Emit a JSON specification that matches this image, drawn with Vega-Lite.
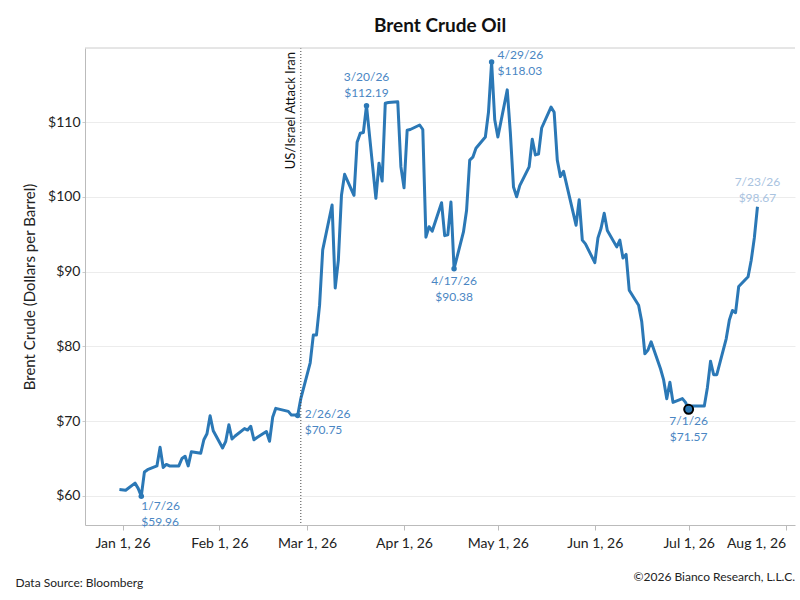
{
  "$schema": "https://vega.github.io/schema/vega-lite/v6.json",
  "width": 710,
  "height": 477,
  "autosize": "none",
  "padding": {"left": 85, "top": 48, "right": 5, "bottom": 75},
  "background": "white",
  "title": {"text": "Brent Crude Oil", "font": "Lato", "fontSize": 19, "fontWeight": "bold", "color": "#111", "offset": 12},
  "config": {"font": "Lato", "view": {"stroke": null}},
  "datasets": {
    "px": [
      {"d": "2025-12-31", "p": 60.85}, {"d": "2026-01-02", "p": 60.75}, {"d": "2026-01-05", "p": 61.7}, {"d": "2026-01-06", "p": 61.0},
      {"d": "2026-01-07", "p": 59.96}, {"d": "2026-01-08", "p": 63.2}, {"d": "2026-01-09", "p": 63.5}, {"d": "2026-01-12", "p": 64.0},
      {"d": "2026-01-13", "p": 66.5}, {"d": "2026-01-14", "p": 63.8}, {"d": "2026-01-15", "p": 64.2}, {"d": "2026-01-16", "p": 64.0},
      {"d": "2026-01-19", "p": 64.0}, {"d": "2026-01-20", "p": 65.0}, {"d": "2026-01-21", "p": 65.3}, {"d": "2026-01-22", "p": 64.0},
      {"d": "2026-01-23", "p": 65.9}, {"d": "2026-01-26", "p": 65.7}, {"d": "2026-01-27", "p": 67.5}, {"d": "2026-01-28", "p": 68.3},
      {"d": "2026-01-29", "p": 70.7}, {"d": "2026-01-30", "p": 68.7}, {"d": "2026-02-02", "p": 66.4}, {"d": "2026-02-03", "p": 67.3},
      {"d": "2026-02-04", "p": 69.5}, {"d": "2026-02-05", "p": 67.6}, {"d": "2026-02-06", "p": 68.0}, {"d": "2026-02-09", "p": 69.0},
      {"d": "2026-02-10", "p": 68.8}, {"d": "2026-02-11", "p": 69.3}, {"d": "2026-02-12", "p": 67.5}, {"d": "2026-02-13", "p": 67.8},
      {"d": "2026-02-16", "p": 68.6}, {"d": "2026-02-17", "p": 67.3}, {"d": "2026-02-18", "p": 70.5}, {"d": "2026-02-19", "p": 71.7},
      {"d": "2026-02-20", "p": 71.6}, {"d": "2026-02-23", "p": 71.3}, {"d": "2026-02-24", "p": 70.8}, {"d": "2026-02-25", "p": 70.8},
      {"d": "2026-02-26", "p": 70.75}, {"d": "2026-02-27", "p": 73.0}, {"d": "2026-03-02", "p": 77.8}, {"d": "2026-03-03", "p": 81.5},
      {"d": "2026-03-04", "p": 81.5}, {"d": "2026-03-05", "p": 85.5}, {"d": "2026-03-06", "p": 92.9}, {"d": "2026-03-09", "p": 98.9},
      {"d": "2026-03-10", "p": 87.8}, {"d": "2026-03-11", "p": 91.5}, {"d": "2026-03-12", "p": 100.2}, {"d": "2026-03-13", "p": 103.0},
      {"d": "2026-03-16", "p": 100.2}, {"d": "2026-03-17", "p": 107.3}, {"d": "2026-03-18", "p": 108.5}, {"d": "2026-03-19", "p": 108.6},
      {"d": "2026-03-20", "p": 112.19}, {"d": "2026-03-23", "p": 99.8}, {"d": "2026-03-24", "p": 104.5}, {"d": "2026-03-25", "p": 102.1},
      {"d": "2026-03-26", "p": 112.5}, {"d": "2026-03-27", "p": 112.6}, {"d": "2026-03-30", "p": 112.7}, {"d": "2026-03-31", "p": 104.0},
      {"d": "2026-04-01", "p": 101.2}, {"d": "2026-04-02", "p": 108.9}, {"d": "2026-04-03", "p": 109.0}, {"d": "2026-04-06", "p": 109.6},
      {"d": "2026-04-07", "p": 109.0}, {"d": "2026-04-08", "p": 94.6}, {"d": "2026-04-09", "p": 96.0}, {"d": "2026-04-10", "p": 95.4},
      {"d": "2026-04-13", "p": 99.2}, {"d": "2026-04-14", "p": 94.8}, {"d": "2026-04-15", "p": 94.9}, {"d": "2026-04-16", "p": 99.3},
      {"d": "2026-04-17", "p": 90.38}, {"d": "2026-04-20", "p": 95.3}, {"d": "2026-04-21", "p": 98.2}, {"d": "2026-04-22", "p": 104.9},
      {"d": "2026-04-23", "p": 105.3}, {"d": "2026-04-24", "p": 106.5}, {"d": "2026-04-27", "p": 108.0}, {"d": "2026-04-28", "p": 111.3},
      {"d": "2026-04-29", "p": 118.03}, {"d": "2026-04-30", "p": 110.3}, {"d": "2026-05-01", "p": 108.0}, {"d": "2026-05-04", "p": 114.3},
      {"d": "2026-05-05", "p": 108.5}, {"d": "2026-05-06", "p": 101.3}, {"d": "2026-05-07", "p": 100.0}, {"d": "2026-05-08", "p": 101.5},
      {"d": "2026-05-11", "p": 104.0}, {"d": "2026-05-12", "p": 107.7}, {"d": "2026-05-13", "p": 105.6}, {"d": "2026-05-14", "p": 105.7},
      {"d": "2026-05-15", "p": 109.2}, {"d": "2026-05-18", "p": 112.0}, {"d": "2026-05-19", "p": 111.3}, {"d": "2026-05-20", "p": 104.9},
      {"d": "2026-05-21", "p": 102.7}, {"d": "2026-05-22", "p": 103.4}, {"d": "2026-05-26", "p": 96.2}, {"d": "2026-05-27", "p": 99.6},
      {"d": "2026-05-28", "p": 94.2}, {"d": "2026-05-29", "p": 93.7}, {"d": "2026-06-01", "p": 91.2}, {"d": "2026-06-02", "p": 94.5},
      {"d": "2026-06-03", "p": 95.8}, {"d": "2026-06-04", "p": 97.8}, {"d": "2026-06-05", "p": 95.5}, {"d": "2026-06-08", "p": 93.3},
      {"d": "2026-06-09", "p": 94.2}, {"d": "2026-06-10", "p": 91.8}, {"d": "2026-06-11", "p": 92.3}, {"d": "2026-06-12", "p": 87.5},
      {"d": "2026-06-15", "p": 85.5}, {"d": "2026-06-16", "p": 83.3}, {"d": "2026-06-17", "p": 79.0}, {"d": "2026-06-18", "p": 79.5},
      {"d": "2026-06-19", "p": 80.6}, {"d": "2026-06-22", "p": 77.0}, {"d": "2026-06-23", "p": 75.5}, {"d": "2026-06-24", "p": 73.0},
      {"d": "2026-06-25", "p": 75.2}, {"d": "2026-06-26", "p": 72.5}, {"d": "2026-06-29", "p": 73.0}, {"d": "2026-06-30", "p": 72.5},
      {"d": "2026-07-01", "p": 71.57}, {"d": "2026-07-02", "p": 72.0}, {"d": "2026-07-06", "p": 72.0}, {"d": "2026-07-07", "p": 74.5},
      {"d": "2026-07-08", "p": 78.0}, {"d": "2026-07-09", "p": 76.2}, {"d": "2026-07-10", "p": 76.2}, {"d": "2026-07-13", "p": 81.0},
      {"d": "2026-07-14", "p": 83.5}, {"d": "2026-07-15", "p": 84.8}, {"d": "2026-07-16", "p": 84.5}, {"d": "2026-07-17", "p": 88.0},
      {"d": "2026-07-20", "p": 89.3}, {"d": "2026-07-21", "p": 91.5}, {"d": "2026-07-22", "p": 94.5}, {"d": "2026-07-23", "p": 98.67}
    ],
    "notes": [
      {"d": "2026-01-07", "p": 59.96, "t": "1/7/26\n$59.96", "pos": "br"},
      {"d": "2026-02-26", "p": 70.75, "t": "2/26/26\n$70.75", "pos": "r"},
      {"d": "2026-03-20", "p": 112.19, "t": "3/20/26\n$112.19", "pos": "t"},
      {"d": "2026-04-17", "p": 90.38, "t": "4/17/26\n$90.38", "pos": "b"},
      {"d": "2026-04-29", "p": 118.03, "t": "4/29/26\n$118.03", "pos": "tr"},
      {"d": "2026-07-01", "p": 71.57, "t": "7/1/26\n$71.57", "pos": "low"},
      {"d": "2026-07-23", "p": 98.67, "t": "7/23/26\n$98.67", "pos": "last"}
    ],
    "evt": [{"d": "2026-02-27", "top": 119.9, "bot": 56.1, "t": "US/Israel Attack Iran"}],
    "foot": [{"d": "2026-08-04", "p": 56.1, "t": "©2026 Bianco Research, L.L.C."}],
    "frame": [{"a": "2025-12-20", "b": "2026-08-04", "p": 119.9}]
  },
  "encoding": {
    "x": {"field": "d", "type": "temporal",
      "scale": {"domain": ["2025-12-20", "2026-08-04"]},
      "axis": {"format": "%b %-d, %y", "tickCount": {"interval": "month", "step": 1}, "labelFont": "Lato", "labelFontSize": 14, "labelColor": "#222",
        "labelAlign": {"expr": "month(datum.value) == 7 ? 'right' : 'center'"}, "labelDx": {"expr": "month(datum.value) == 7 ? 6 : 0"},
        "domainColor": "#bbb", "tickColor": "#bbb", "tickSize": 5, "labelPadding": 6, "grid": false,
        "title": "Data Source: Bloomberg", "titleFont": "Lato", "titleFontSize": 12, "titleFontWeight": "normal", "titleColor": "#222",
        "titleAnchor": "start", "titleAlign": "left", "titleX": -70, "titleY": 52}},
    "y": {"field": "p", "type": "quantitative",
      "scale": {"domain": [56.1, 119.9], "nice": false, "zero": false},
      "axis": {"values": [60, 70, 80, 90, 100, 110], "format": "$,.0f", "labelFont": "Lato", "labelFontSize": 14, "labelColor": "#222",
        "domainColor": "#bbb", "tickColor": "#ccc", "tickSize": 3, "gridColor": "#ececec",
        "title": "Brent Crude (Dollars per Barrel)", "titleFont": "Lato", "titleFontSize": 15, "titleFontWeight": "normal", "titleColor": "#222", "titlePadding": 10}}
  },
  "layer": [
    {"data": {"name": "px"}, "mark": {"type": "line", "color": "#2b78b6", "strokeWidth": 3, "strokeJoin": "round"}},
    {"data": {"name": "evt"}, "mark": {"type": "rule", "color": "#444", "strokeDash": [1, 2], "strokeWidth": 1}, "encoding": {"y": {"field": "top", "type": "quantitative"}, "y2": {"field": "bot"}}},
    {"data": {"name": "evt"}, "mark": {"type": "text", "angle": 270, "align": "right", "baseline": "bottom", "dy": -3, "dx": -4, "font": "Lato", "fontSize": 13, "color": "#111"}, "encoding": {"y": {"field": "top", "type": "quantitative"}, "text": {"field": "t"}}},
    {"data": {"name": "frame"}, "mark": {"type": "rule", "color": "#ccc"}, "encoding": {"x": {"field": "a", "type": "temporal"}, "x2": {"field": "b"}}},
    {"data": {"name": "notes"}, "transform": [{"filter": "datum.pos != 'last' && datum.pos != 'low'"}], "mark": {"type": "circle", "color": "#2b78b6", "opacity": 1, "size": 30}},
    {"data": {"name": "notes"}, "transform": [{"filter": "datum.pos == 'low'"}], "mark": {"type": "circle", "color": "#2b78b6", "stroke": "#000", "strokeWidth": 2, "opacity": 1, "size": 80}},
    {"data": {"name": "notes"}, "transform": [{"filter": "datum.pos == 'br'"}, {"calculate": "split(datum.t, '\\n')", "as": "lines"}], "mark": {"type": "text", "align": "left", "baseline": "top", "dx": 0, "dy": 5, "font": "Lato", "fontSize": 12, "color": "#4a86c3", "lineHeight": 16}, "encoding": {"text": {"field": "lines"}}},
    {"data": {"name": "notes"}, "transform": [{"filter": "datum.pos == 'r'"}, {"calculate": "split(datum.t, '\\n')", "as": "lines"}], "mark": {"type": "text", "align": "left", "baseline": "top", "dx": 7, "dy": -6, "font": "Lato", "fontSize": 12, "color": "#4a86c3", "lineHeight": 16}, "encoding": {"text": {"field": "lines"}}},
    {"data": {"name": "notes"}, "transform": [{"filter": "datum.pos == 't'"}, {"calculate": "split(datum.t, '\\n')", "as": "lines"}], "mark": {"type": "text", "align": "center", "baseline": "bottom", "dy": -22, "font": "Lato", "fontSize": 12, "color": "#4a86c3", "lineHeight": 16}, "encoding": {"text": {"field": "lines"}}},
    {"data": {"name": "notes"}, "transform": [{"filter": "datum.pos == 'b' || datum.pos == 'low'"}, {"calculate": "split(datum.t, '\\n')", "as": "lines"}], "mark": {"type": "text", "align": "center", "baseline": "top", "dy": 7, "font": "Lato", "fontSize": 12, "color": "#4a86c3", "lineHeight": 16}, "encoding": {"text": {"field": "lines"}}},
    {"data": {"name": "notes"}, "transform": [{"filter": "datum.pos == 'tr'"}, {"calculate": "split(datum.t, '\\n')", "as": "lines"}], "mark": {"type": "text", "align": "left", "baseline": "top", "dx": 6, "dy": -12, "font": "Lato", "fontSize": 12, "color": "#4a86c3", "lineHeight": 16}, "encoding": {"text": {"field": "lines"}}},
    {"data": {"name": "notes"}, "transform": [{"filter": "datum.pos == 'last'"}, {"calculate": "split(datum.t, '\\n')", "as": "lines"}], "mark": {"type": "text", "align": "center", "baseline": "top", "dy": -30, "font": "Lato", "fontSize": 12, "color": "#a9c3df", "lineHeight": 16}, "encoding": {"text": {"field": "lines"}}},
    {"data": {"name": "foot"}, "mark": {"type": "text", "align": "right", "baseline": "middle", "dy": 52, "font": "Lato", "fontSize": 12, "color": "#222"}, "encoding": {"text": {"field": "t"}}}
  ]
}
